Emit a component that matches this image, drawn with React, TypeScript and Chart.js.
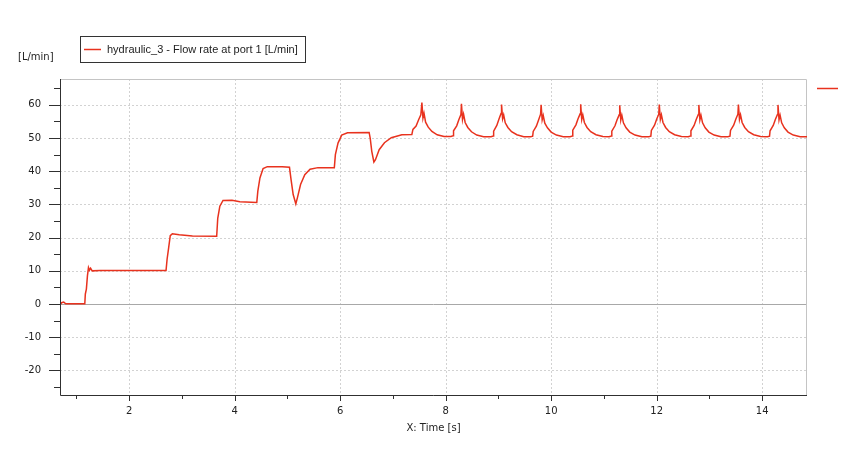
import React, { useEffect, useRef } from "react";
import { Chart, registerables } from "chart.js";
Chart.register(...registerables);

const timeS: number[] = [
  0.69, 0.72, 0.76, 0.80, 1.00, 1.16, 1.17, 1.19, 1.21, 1.23, 1.25, 1.27, 1.30, 1.45,
  2.70, 2.72, 2.75, 2.78, 2.82, 2.95, 3.20, 3.66, 3.68, 3.72, 3.78, 3.95, 4.10, 4.42,
  4.44, 4.48, 4.54, 4.62, 4.90, 5.04, 5.07, 5.11, 5.16, 5.19, 5.25, 5.33, 5.43, 5.58,
  5.89, 5.91, 5.96, 6.03, 6.14, 6.55, 6.57, 6.60, 6.64, 6.67, 6.74, 6.84, 6.97, 7.17, 7.36,
  7.38, 7.44, 7.49, 7.53, 7.55, 7.57, 7.59, 7.62, 7.67, 7.74, 7.84, 7.97, 8.10, 8.14,
  8.15, 8.21, 8.25, 8.29, 8.30, 8.32, 8.34, 8.37, 8.42, 8.49, 8.59, 8.72, 8.86, 8.90,
  8.91, 8.97, 9.01, 9.05, 9.06, 9.08, 9.10, 9.13, 9.18, 9.25, 9.35, 9.48, 9.61, 9.65,
  9.66, 9.72, 9.76, 9.80, 9.81, 9.83, 9.85, 9.88, 9.93, 10.00, 10.10, 10.23, 10.36, 10.40,
  10.41, 10.47, 10.51, 10.55, 10.56, 10.58, 10.60, 10.63, 10.68, 10.75, 10.85, 10.98, 11.10, 11.14,
  11.15, 11.21, 11.25, 11.29, 11.30, 11.32, 11.34, 11.37, 11.42, 11.49, 11.59, 11.72, 11.85, 11.89,
  11.90, 11.96, 12.00, 12.04, 12.05, 12.07, 12.09, 12.12, 12.17, 12.24, 12.34, 12.47, 12.60, 12.64,
  12.65, 12.71, 12.75, 12.79, 12.80, 12.82, 12.84, 12.87, 12.92, 12.99, 13.09, 13.22, 13.35, 13.39,
  13.40, 13.46, 13.50, 13.54, 13.55, 13.57, 13.59, 13.62, 13.67, 13.74, 13.84, 13.97, 14.10, 14.14,
  14.15, 14.21, 14.25, 14.29, 14.30, 14.32, 14.34, 14.37, 14.42, 14.49, 14.59, 14.72, 14.85,
];

const flowLpm: number[] = [
  -0.3, 0.4, 0.6, 0.1, 0.1, 0.1, 3.0, 4.5, 8.5, 11.0, 10.2, 10.8, 10.0, 10.1,
  10.1, 13.5, 17.0, 20.6, 21.2, 20.9, 20.5, 20.4, 25.8, 29.5, 31.2, 31.3, 30.8, 30.6,
  34.0, 38.0, 40.8, 41.4, 41.4, 41.2, 37.5, 33.0, 30.2, 32.0, 36.0, 39.0, 40.6, 41.1,
  41.1, 45.0, 48.5, 50.9, 51.6, 51.7, 50.0, 46.0, 42.8, 43.5, 46.5, 48.6, 50.1, 51.0, 51.1,
  52.6, 53.6, 55.6, 57.0, 60.7, 56.0, 57.5, 54.8, 53.3, 52.0, 51.0, 50.5, 50.5, 50.7,
  52.2, 53.7, 55.5, 57.1, 60.3, 55.6, 57.2, 54.7, 53.2, 51.9, 50.9, 50.4, 50.4, 50.6,
  52.1, 53.8, 55.7, 57.4, 60.1, 55.8, 57.0, 54.6, 53.2, 51.9, 51.0, 50.4, 50.4, 50.6,
  52.0, 53.6, 55.4, 57.2, 60.0, 55.5, 56.8, 54.5, 53.1, 51.8, 50.9, 50.4, 50.4, 50.6,
  52.4, 54.0, 55.8, 57.3, 60.2, 55.6, 57.0, 54.7, 53.2, 51.9, 51.0, 50.5, 50.4, 50.6,
  52.1, 53.7, 55.5, 57.0, 59.9, 55.4, 56.9, 54.6, 53.1, 51.8, 50.9, 50.4, 50.4, 50.6,
  52.3, 53.9, 55.7, 57.2, 60.1, 55.6, 57.0, 54.7, 53.2, 51.9, 51.0, 50.5, 50.4, 50.6,
  52.2, 53.8, 55.6, 57.1, 60.0, 55.5, 56.9, 54.6, 53.1, 51.8, 50.9, 50.4, 50.4, 50.6,
  52.3, 53.9, 55.7, 57.2, 60.1, 55.6, 57.0, 54.7, 53.2, 51.9, 51.0, 50.5, 50.4, 50.6,
  52.2, 53.8, 55.6, 57.1, 60.0, 55.5, 56.9, 54.6, 53.1, 51.8, 50.9, 50.4, 50.4,
];

const xTickValues = [2, 4, 6, 8, 10, 12, 14];
const xMinorTickValues = [1, 3, 5, 7, 9, 11, 13];
const yTickValues = [-20, -10, 0, 10, 20, 30, 40, 50, 60];
const yMinorTickValues = [-25, -15, -5, 5, 15, 25, 35, 45, 55, 65];
const xRange = [0.69, 14.85];
const yRange = [-27.4, 67.8];

const seriesLabel = "hydraulic_3 - Flow rate at port 1 [L/min]";
const yUnitLabel = "[L/min]";
const xAxisTitle = "X: Time [s]";

const LINE_COLOR = "#e8321e";
const FONT = "DejaVu Sans";

const decorPlugin = {
  id: "decor",
  beforeDatasetsDraw(chart: any) {
    const { ctx, chartArea: a, scales } = chart;
    const xs = scales.x, ys = scales.y;
    ctx.save();
    ctx.lineWidth = 1;
    ctx.strokeStyle = "#d2d2d2";
    ctx.setLineDash([2, 2]);
    for (const v of xTickValues) {
      const px = Math.round(xs.getPixelForValue(v)) + 0.5;
      ctx.beginPath(); ctx.moveTo(px, a.top); ctx.lineTo(px, a.bottom); ctx.stroke();
    }
    for (const v of yTickValues) {
      if (v === 0) continue;
      const py = Math.round(ys.getPixelForValue(v)) + 0.5;
      ctx.beginPath(); ctx.moveTo(a.left, py); ctx.lineTo(a.right, py); ctx.stroke();
    }
    ctx.setLineDash([]);
    ctx.strokeStyle = "#a8a8a8";
    const zy = Math.round(ys.getPixelForValue(0)) + 0.5;
    ctx.beginPath(); ctx.moveTo(a.left, zy); ctx.lineTo(a.right, zy); ctx.stroke();
    ctx.strokeStyle = "#c4c4c4";
    ctx.beginPath();
    ctx.moveTo(a.left, a.top + 0.5); ctx.lineTo(a.right - 0.5, a.top + 0.5); ctx.lineTo(a.right - 0.5, a.bottom);
    ctx.stroke();
    ctx.restore();
  },
  afterDatasetsDraw(chart: any) {
    const { ctx, chartArea: a, scales } = chart;
    const xs = scales.x, ys = scales.y;
    ctx.save();
    ctx.lineWidth = 1;
    ctx.strokeStyle = "#303030";
    ctx.beginPath();
    ctx.moveTo(a.left + 0.5, a.top); ctx.lineTo(a.left + 0.5, a.bottom + 0.5); ctx.lineTo(a.right, a.bottom + 0.5);
    ctx.stroke();
    for (const v of yTickValues) {
      const py = Math.round(ys.getPixelForValue(v)) + 0.5;
      ctx.beginPath(); ctx.moveTo(a.left - 11, py); ctx.lineTo(a.left, py); ctx.stroke();
    }
    for (const v of yMinorTickValues) {
      const py = Math.round(ys.getPixelForValue(v)) + 0.5;
      ctx.beginPath(); ctx.moveTo(a.left - 6, py); ctx.lineTo(a.left, py); ctx.stroke();
    }
    for (const v of xTickValues) {
      const px = Math.round(xs.getPixelForValue(v)) + 0.5;
      ctx.beginPath(); ctx.moveTo(px, a.bottom); ctx.lineTo(px, a.bottom + 6); ctx.stroke();
    }
    for (const v of xMinorTickValues) {
      const px = Math.round(xs.getPixelForValue(v)) + 0.5;
      ctx.beginPath(); ctx.moveTo(px, a.bottom); ctx.lineTo(px, a.bottom + 4); ctx.stroke();
    }
    ctx.fillStyle = "#222";
    ctx.font = `10px ${FONT}`;
    ctx.textAlign = "center";
    ctx.textBaseline = "middle";
    ctx.fillText(xAxisTitle, (a.left + a.right) / 2, a.bottom + 33);
    ctx.textAlign = "left";
    ctx.fillText(yUnitLabel, 18, 57);
    ctx.strokeStyle = "#333";
    ctx.strokeRect(80.5, 36.5, 225, 26);
    ctx.strokeStyle = LINE_COLOR;
    ctx.lineWidth = 1.5;
    ctx.beginPath(); ctx.moveTo(84, 49.5); ctx.lineTo(101, 49.5); ctx.stroke();
    ctx.fillStyle = "#222";
    ctx.font = `11px "Liberation Sans"`;
    ctx.textAlign = "left";
    ctx.fillText(seriesLabel, 107, 49.5);
    ctx.beginPath(); ctx.moveTo(817, 88.5); ctx.lineTo(838, 88.5); ctx.stroke();
    ctx.restore();
  },
};

export default function App() {
  const ref = useRef<HTMLCanvasElement | null>(null);
  useEffect(() => {
    if (!ref.current) return;
    const data = timeS.map((t, i) => ({ x: t, y: flowLpm[i] }));
    const chart = new Chart(ref.current, {
      type: "line",
      data: {
        datasets: [
          {
            label: seriesLabel,
            data,
            borderColor: LINE_COLOR,
            borderWidth: 1.5,
            pointRadius: 0,
            tension: 0,
            fill: false,
          },
        ],
      },
      options: {
        animation: false,
        responsive: false,
        devicePixelRatio: 1,
        layout: { padding: { top: 79, right: 36, bottom: 0, left: 0 } },
        plugins: { legend: { display: false }, tooltip: { enabled: false } },
        scales: {
          x: {
            type: "linear",
            min: xRange[0],
            max: xRange[1],
            grid: { display: false, drawTicks: false },
            border: { display: false },
            afterBuildTicks: (s: any) => { s.ticks = xTickValues.map((v) => ({ value: v })); },
            afterFit: (s: any) => { s.height = 79; },
            ticks: { padding: 10, color: "#222", font: { family: FONT, size: 10 }, maxRotation: 0 },
          },
          y: {
            type: "linear",
            min: yRange[0],
            max: yRange[1],
            grid: { display: false, drawTicks: false },
            border: { display: false },
            afterBuildTicks: (s: any) => { s.ticks = yTickValues.map((v) => ({ value: v })); },
            afterFit: (s: any) => { s.width = 60; },
            ticks: { padding: 19, color: "#222", font: { family: FONT, size: 10 } },
          },
        },
      },
      plugins: [decorPlugin],
    });
    return () => chart.destroy();
  }, []);
  return (
    <div style={{ position: "absolute", left: 0, top: 0, width: 843, height: 474, background: "#fff" }}>
      <canvas ref={ref} width={843} height={474} style={{ display: "block" }} />
    </div>
  );
}
